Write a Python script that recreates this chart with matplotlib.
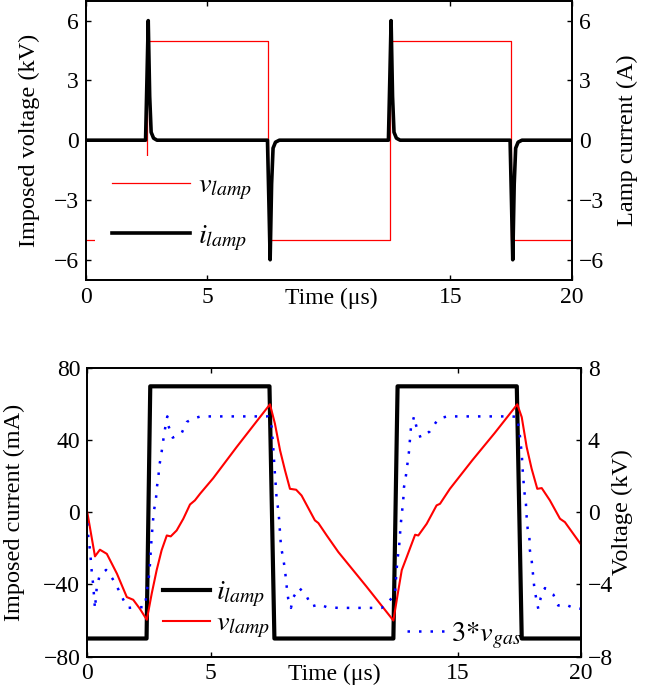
import matplotlib
matplotlib.use('Agg')
from matplotlib import pyplot as plt

plt.rcParams['font.family'] = ['Liberation Serif', 'DejaVu Serif']
plt.rcParams['mathtext.fontset'] = 'stix'
plt.rcParams['font.size'] = 17

# ---- top panel: imposed voltage square wave (kV) and lamp current spikes (A)
t_vtop = [0, 2.5, 2.5, 7.5, 7.5, 12.5, 12.5, 17.5, 17.5, 20]
v_top = [-5, -5, 5, 5, -5, -5, 5, 5, -5, -5]

t_itop = [0,
          2.45, 2.51, 2.56, 2.62, 2.68, 2.78, 2.92,
          7.47, 7.53, 7.58, 7.64, 7.70, 7.80, 7.96,
          12.45, 12.51, 12.56, 12.62, 12.68, 12.78, 12.93,
          17.46, 17.52, 17.57, 17.63, 17.69, 17.79, 17.95,
          20]
i_top = [0,
         0, 3.2, 6, 2.2, 0.4, 0.1, 0,
         0, -3.2, -6, -2.2, -0.4, -0.1, 0,
         0, 3.2, 6, 2.2, 0.4, 0.1, 0,
         0, -3.2, -6, -2.2, -0.4, -0.1, 0,
         0]

# ---- bottom panel: imposed current (mA), lamp voltage and 3*gas voltage (kV)
t_ibot = [0, 2.40, 2.55, 7.38, 7.58, 12.40, 12.57, 17.40, 17.60, 20]
i_bot = [-70, -70, 70, 70, -70, -70, 70, 70, -70, -70]

t_vlamp = [0, 0.31, 0.51, 0.79, 1.2, 1.6, 1.86, 2.13, 2.41, 2.61, 2.81, 3.01,
           3.22, 3.38, 3.62, 3.89, 4.16, 4.36, 4.57, 5.1, 6.05, 6.8, 7.4,
           7.6, 7.81, 8.01, 8.21, 8.46, 8.68, 9.22, 9.36, 9.7, 10.17, 11.3,
           12.4, 12.6, 12.74, 12.94, 13.28, 13.41, 13.75, 14.15, 14.29, 14.69,
           15.6, 16.5, 17.42, 17.6, 17.8, 18.0, 18.23, 18.41, 18.74, 19.15,
           19.35, 19.69, 20]
v_lamp = [0, -2.44, -2.07, -2.3, -3.4, -4.7, -4.85, -5.35, -5.96, -4.5, -3.2,
          -2.1, -1.28, -1.33, -1.0, -0.35, 0.44, 0.67, 1.04, 1.9, 3.63, 4.95,
          6.0, 4.93, 3.44, 2.33, 1.31, 1.26, 0.94, -0.44, -0.59, -1.28, -2.2,
          -4.1, -6.0, -4.33, -3.2, -2.48, -1.24, -1.28, -0.63, 0.39, 0.48, 1.31,
          2.9, 4.4, 6.0, 5.29, 3.63, 2.43, 1.31, 1.35, 0.67, -0.35, -0.54,
          -1.19, -1.78]

t_vgas = [0, 0.04, 0.11, 0.18, 0.24, 0.31, 0.38, 0.49, 0.76, 1.03, 1.26, 1.46,
          1.66, 2.0, 2.34, 2.41, 2.47, 2.54, 2.58, 2.65, 2.70, 2.78, 2.81,
          2.88, 2.92, 3.01, 3.08, 3.15, 3.24, 3.28, 3.46, 3.82, 4.03, 4.27,
          4.59, 7.33, 7.47, 7.54, 7.6, 7.64, 7.67, 7.74, 7.78, 7.81, 7.85,
          7.94, 8.01, 8.08, 8.14, 8.25, 8.35, 8.59, 8.89, 9.09, 9.4, 9.7,
          10.17, 11.93, 12.46, 12.53, 12.57, 12.63, 12.7, 12.75, 12.8, 12.83,
          12.91, 12.97, 13.03, 13.11, 13.24, 13.32, 13.5, 13.88, 14.22, 14.58,
          17.19, 17.42, 17.53, 17.6, 17.64, 17.7, 17.77, 17.8, 17.84, 17.91,
          17.93, 18.0, 18.1, 18.18, 18.27, 18.37, 18.54, 18.88, 19.08, 19.35,
          19.69, 20]
v_gas3 = [-0.6, -1.37, -2.1, -3.3, -4.05, -5.35, -4.19, -3.55, -3.19, -3.7,
          -4.28, -4.85, -5.3, -5.26, -5.26, -4.3, -3.95, -2.85, -1.9, -0.63,
          0.11, 0.7, 1.31, 2.0, 2.6, 3.35, 4.04, 4.65, 5.33, 4.83, 4.15, 4.4,
          5.02, 5.2, 5.33, 5.33, 4.74, 3.44, 2.15, 1.4, 0.76, 0.11, -0.54,
          -1.19, -1.93, -2.57, -3.22, -4.15, -4.8, -5.3, -4.7, -4.19, -4.67,
          -5.22, -5.1, -5.26, -5.3, -5.3, -4.6, -3.2, -2.57, -1.93, -0.63,
          0.02, 0.7, 1.4, 2.06, 2.7, 3.35, 4.69, 5.33, 4.83, 4.15, 4.5, 5.2,
          5.33, 5.33, 5.3, 4.2, 3.26, 2.33, 1.22, 0.48, -0.26, -0.9, -1.37,
          -2.1, -2.63, -4.05, -4.74, -5.35, -4.74, -4.2, -4.56, -5.17, -5.1,
          -5.3, -5.35]

fig = plt.figure(figsize=(6.62, 6.94), dpi=100)


def style_axes(ax, axr):
    for a in (ax, axr):
        for s in a.spines.values():
            s.set_linewidth(1.3)
    ax.tick_params(direction='in', length=3.5, width=1, top=True, pad=5,
                   labelsize=17)
    axr.tick_params(direction='in', length=3.5, width=1, pad=5, labelsize=17)
    ax.set_xlim(0, 20)
    ax.set_xticks([0, 5, 15, 20])


# top panel
ax1 = fig.add_axes([0.130, 0.597, 0.7337, 0.402])
ax2 = ax1.twinx()
red_top, = ax1.plot(t_vtop, v_top, color='#ff0000', lw=0.9)
blk_top, = ax2.plot(t_itop, i_top, color='black', lw=2.6)
ax1.set_ylim(-7, 7)
ax2.set_ylim(-7, 7)
ax1.set_yticks([-6, -3, 0, 3, 6])
ax2.set_yticks([-6, -3, 0, 3, 6])
style_axes(ax1, ax2)
ax1.set_ylabel('Imposed voltage (kV)', fontsize=17.5)
ax1.yaxis.set_label_coords(-0.095, 0.5)
ax2.set_ylabel('Lamp current (A)', fontsize=17.5)
ax2.yaxis.set_label_coords(1.093, 0.5)
ax1.set_xlabel('Time (μs)', fontsize=17)
ax1.xaxis.set_label_coords(0.505, -0.03)
# legend sits under the current trace but over the voltage trace
ax1.legend([red_top, blk_top], ['$v_{lamp}$', '$i_{lamp}$'], loc='upper left',
           bbox_to_anchor=(0.0185, 0.445), fontsize=20.5, frameon=True,
           facecolor='white', edgecolor='none', framealpha=1, fancybox=False,
           borderpad=0.6, handlelength=2.75, handletextpad=0.25,
           labelspacing=0.74, borderaxespad=0)

# bottom panel
ax3 = fig.add_axes([0.1319, 0.054, 0.7457, 0.4153])
ax4 = ax3.twinx()
blk_bot, = ax3.plot(t_ibot, i_bot, color='black', lw=3.0)
red_bot, = ax4.plot(t_vlamp, v_lamp, color='#ff0000', lw=1.5)
blue_bot, = ax4.plot(t_vgas, v_gas3, color='#0000ff', lw=1.8,
                     linestyle=(0, (1, 3.6)))
ax3.set_ylim(-80, 80)
ax4.set_ylim(-8, 8)
ax3.set_yticks([-80, -40, 0, 40, 80])
ax4.set_yticks([-8, -4, 0, 4, 8])
style_axes(ax3, ax4)
ax3.set_ylabel('Imposed current (mA)', fontsize=17.5)
ax3.yaxis.set_label_coords(-0.126, 0.5)
ax4.set_ylabel('Voltage (kV)', fontsize=17.5)
ax4.yaxis.set_label_coords(1.063, 0.5)
ax3.set_xlabel('Time (μs)', fontsize=17)
ax3.xaxis.set_label_coords(0.5, -0.024)

leg1 = ax4.legend([blk_bot, red_bot], ['$i_{lamp}$', '$v_{lamp}$'],
                  loc='upper left', bbox_to_anchor=(0.153, 0.266),
                  fontsize=20.5, frameon=False, borderpad=0, borderaxespad=0,
                  handlelength=1.65, handletextpad=0.2, labelspacing=0.05)
ax4.add_artist(leg1)
ax4.legend([blue_bot], [r'$\mathit{3{*}v}_{gas}$'], loc='upper left',
           bbox_to_anchor=(0.6476, 0.126), fontsize=20.5, frameon=False,
           borderpad=0, borderaxespad=0, handlelength=1.35,
           handletextpad=0.2)

plt.savefig('out.png', dpi=100)
